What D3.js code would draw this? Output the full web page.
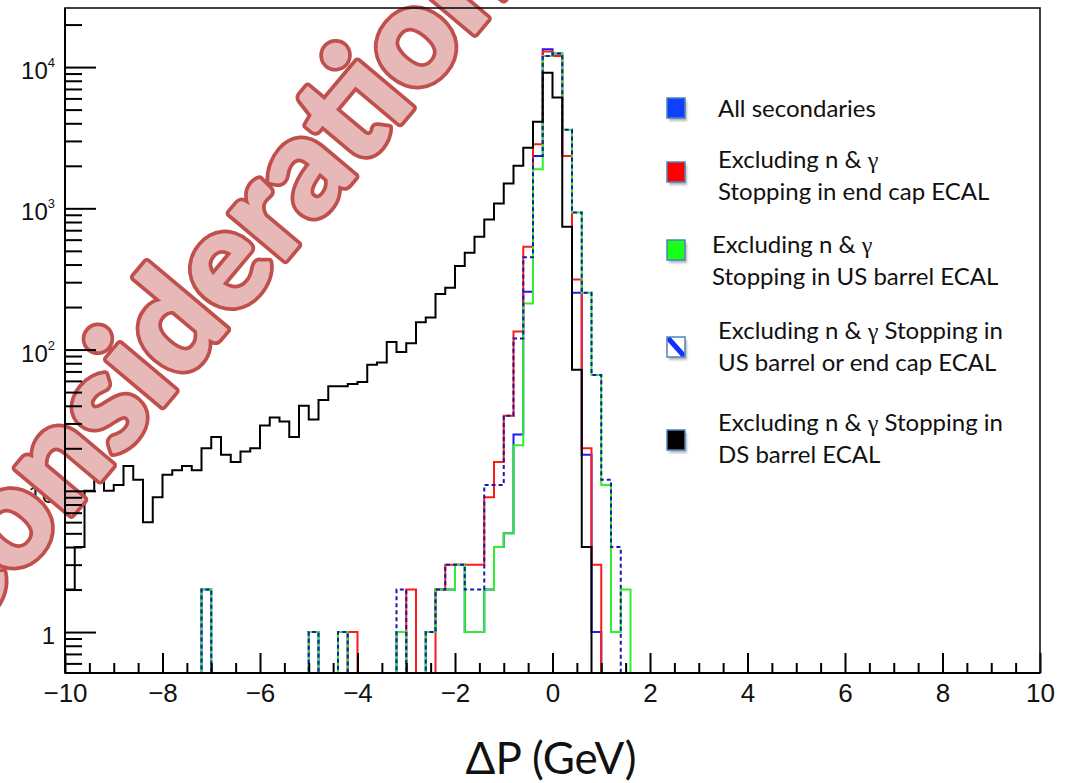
<!DOCTYPE html>
<html>
<head>
<meta charset="utf-8">
<script src="https://cdn.jsdelivr.net/npm/d3@7"></script>
<style>
  html, body { margin: 0; padding: 0; background: #ffffff; }
  svg { display: block; }
</style>
</head>
<body>
<svg id="chart" width="1066" height="783"></svg>
<script>
// ---- binning: 100 bins of 0.2 GeV between -10 and 10 ----
const xMin = -10, xMax = 10, nBins = 100;
const binEdges = d3.range(nBins + 1).map(i => xMin + (xMax - xMin) * i / nBins);

// ---- entries per bin (rows of 10 bins) ----
const allSecondaries = [
  0,0,0,0,0,0,0,0,0,0,
  0,0,0,0,2,0,0,0,0,0,
  0,0,0,0,0,1,0,0,1,0,
  0,0,0,0,1,0,0,1,2,2,
  3,1,1,2,4,5,25,257,2350,13400,
  12500,2350,253,18,1,0,0,0,0,0,
  0,0,0,0,0,0,0,0,0,0,
  0,0,0,0,0,0,0,0,0,0,
  0,0,0,0,0,0,0,0,0,0,
  0,0,0,0,0,0,0,0,0,0
];
const endCapECAL = [
  0,0,0,0,0,0,0,0,0,0,
  0,0,0,0,0,0,0,0,0,0,
  0,0,0,0,0,0,0,0,0,1,
  0,0,0,0,0,2,0,0,2,3,
  3,3,3,9,16,34,134,534,2840,12900,
  12000,2350,314,20,3,0,0,0,0,0,
  0,0,0,0,0,0,0,0,0,0,
  0,0,0,0,0,0,0,0,0,0,
  0,0,0,0,0,0,0,0,0,0,
  0,0,0,0,0,0,0,0,0,0
];
const usBarrelECAL = [
  0,0,0,0,0,0,0,0,0,0,
  0,0,0,0,2,0,0,0,0,0,
  0,0,0,0,0,1,0,0,1,0,
  0,0,0,0,1,0,0,1,2,2,
  3,1,1,2,4,5,21,212,1890,11970,
  12500,3600,936,253,66,11,1,2,0,0,
  0,0,0,0,0,0,0,0,0,0,
  0,0,0,0,0,0,0,0,0,0,
  0,0,0,0,0,0,0,0,0,0,
  0,0,0,0,0,0,0,0,0,0
];
const usBarrelOrEndCap = [
  0,0,0,0,0,0,0,0,0,0,
  0,0,0,0,2,0,0,0,0,0,
  0,0,0,0,0,1,0,0,1,0,
  0,0,0,0,2,0,0,1,2,3,
  3,2,2,11,11,34,120,450,2350,11970,
  12500,3600,936,253,66,12,4,0,0,0,
  0,0,0,0,0,0,0,0,0,0,
  0,0,0,0,0,0,0,0,0,0,
  0,0,0,0,0,0,0,0,0,0,
  0,0,0,0,0,0,0,0,0,0
];
const dsBarrelECAL = [
  2,4,10,13,10,11,15,12,6,9,
  13,14,15,14,20,24,18,16,19,20,
  29,33,31,24,40,32,44,55,55,57,
  59,78,81,113,96,111,156,169,247,274,
  390,484,629,835,1084,1500,2000,2690,4100,9120,
  6100,740,72,4,0,0,0,0,0,0,
  0,0,0,0,0,0,0,0,0,0,
  0,0,0,0,0,0,0,0,0,0,
  0,0,0,0,0,0,0,0,0,0,
  0,0,0,0,0,0,0,0,0,0
];

// ---- axis ticks and labels ----
const xMajorTicks = [-10, -8, -6, -4, -2, 0, 2, 4, 6, 8, 10];
const xMinorStep = 0.5;
const yMajorTicks = [1, 10, 100, 1000, 10000];
const yTickLabels = [["1", ""], ["10", ""], ["10", "2"], ["10", "3"], ["10", "4"]];
const yDomain = [0.513, 26200];
const xTitle = "\u0394P (GeV)";

// ---- legend ----
const legendLabels = [
  ["All secondaries"],
  ["Excluding n & \u03b3", "Stopping in end cap ECAL"],
  ["Excluding n & \u03b3", "Stopping in US barrel ECAL"],
  ["Excluding n & \u03b3 Stopping in", "US barrel or end cap ECAL"],
  ["Excluding n & \u03b3 Stopping in", "DS barrel ECAL"]
];
const watermarkText = "Consideration";

// ---- layout ----
const frame = { left: 65, right: 1040, top: 8, bottom: 673 };

const svg = d3.select("#chart");
const x = d3.scaleLinear().domain([xMin, xMax]).range([frame.left, frame.right]);
const y = d3.scaleLog().domain(yDomain).range([frame.bottom, frame.top]).clamp(true);

const defs = svg.append("defs");
defs.append("clipPath").attr("id", "plotClip")
  .append("rect")
  .attr("x", frame.left).attr("y", frame.top)
  .attr("width", frame.right - frame.left).attr("height", frame.bottom - frame.top);
const shadow = defs.append("filter").attr("id", "markerShadow")
  .attr("x", "-50%").attr("y", "-50%").attr("width", "200%").attr("height", "200%");
shadow.append("feGaussianBlur").attr("stdDeviation", 1.2);

// step outline of a histogram; empty bins sit on the lower frame edge
function stepPath(counts) {
  const base = y.range()[0];
  const pts = [[x(binEdges[0]), base]];
  counts.forEach((c, i) => pts.push([x(binEdges[i]), c > 0 ? y(c) : base]));
  pts.push([x(binEdges[nBins]), pts[pts.length - 1][1]]);
  pts.push([x(binEdges[nBins]), base]);
  return d3.line().curve(d3.curveStepAfter)(pts);
}

const series = [
  { counts: allSecondaries,   color: "#1a1aff", dash: null },
  { counts: endCapECAL,       color: "#ff1a1a", dash: null },
  { counts: usBarrelECAL,     color: "#2ef02e", dash: null },
  { counts: usBarrelOrEndCap, color: "#1a1aaa", dash: "4,3" },
  { counts: dsBarrelECAL,     color: "#000000", dash: null }
];

const plot = svg.append("g").attr("clip-path", "url(#plotClip)");
plot.selectAll("path.hist")
  .data(series)
  .join("path")
  .attr("class", "hist")
  .attr("d", d => stepPath(d.counts))
  .attr("fill", "none")
  .attr("stroke", d => d.color)
  .attr("stroke-width", 2)
  .attr("stroke-dasharray", d => d.dash);

// ---- tick labels (drawn beneath the watermark) ----
const labelFont = "'Liberation Sans', Arial, Helvetica, sans-serif";

const xLabels = svg.append("g")
  .attr("transform", `translate(0,${frame.bottom})`)
  .call(d3.axisBottom(x).tickValues(xMajorTicks).tickSize(0).tickPadding(10.5)
    .tickFormat(d => d < 0 ? "\u2212" + Math.abs(d) : String(d)));
xLabels.select(".domain").remove();
xLabels.selectAll("text")
  .attr("font-family", labelFont).attr("font-size", 26).attr("fill", "#111");

const yLabels = svg.append("g")
  .attr("transform", `translate(${frame.left},0)`)
  .call(d3.axisLeft(y).tickValues(yMajorTicks).tickSize(0).tickPadding(10).tickFormat(""));
yLabels.select(".domain").remove();
yLabels.selectAll("text")
  .attr("font-family", labelFont).attr("font-size", 24).attr("fill", "#111")
  .attr("dy", "0.48em")
  .each(function (d, i) {
    const t = d3.select(this);
    const [base, exp] = yTickLabels[i];
    t.append("tspan").text(base);
    if (exp) t.append("tspan").attr("font-size", 13).attr("dy", -12).text(exp);
  });

// ---- x axis title ----
svg.append("text")
  .attr("x", 551).attr("y", 774)
  .attr("text-anchor", "middle")
  .attr("font-family", "Lato, 'Open Sans', sans-serif")
  .attr("font-size", 44)
  .attr("fill", "#111")
  .text(xTitle);

// ---- legend ----
const legendMarkerY = [108, 172, 250, 347, 440];
const legendTextX = [718, 718, 712, 718, 718];
const legendTextY = [117, 168, 253, 339, 431];
const legendLineGap = 31.5;
const markerX = 667, markerW = 18, markerH = 20;
const markerFills = ["#1040ff", "#ff0000", "#1aff1a", "hatch", "#000000"];

const legend = svg.append("g");
legendLabels.forEach((lines, i) => {
  const cy = legendMarkerY[i];
  const g = legend.append("g");
  g.append("rect")
    .attr("x", markerX + 2).attr("y", cy - markerH / 2 + 3)
    .attr("width", markerW).attr("height", markerH)
    .attr("fill", "#888").attr("opacity", 0.6)
    .attr("filter", "url(#markerShadow)");
  g.append("rect")
    .attr("x", markerX).attr("y", cy - markerH / 2)
    .attr("width", markerW).attr("height", markerH)
    .attr("fill", markerFills[i] === "hatch" ? "#ffffff" : markerFills[i]);
  if (markerFills[i] === "hatch") {
    const cid = "hatchClip" + i;
    defs.append("clipPath").attr("id", cid).append("rect")
      .attr("x", markerX).attr("y", cy - markerH / 2)
      .attr("width", markerW).attr("height", markerH);
    g.append("line")
      .attr("clip-path", `url(#${cid})`)
      .attr("x1", markerX + 1).attr("y1", cy - markerH / 2 + 1)
      .attr("x2", markerX + markerW - 1).attr("y2", cy + markerH / 2 - 1)
      .attr("stroke", "#1030ff").attr("stroke-width", 5);
  }
  g.append("rect")
    .attr("x", markerX).attr("y", cy - markerH / 2)
    .attr("width", markerW).attr("height", markerH)
    .attr("fill", "none").attr("stroke", "#4f81bd").attr("stroke-width", 1.5);

  lines.forEach((line, j) => {
    const t = g.append("text")
      .attr("x", legendTextX[i]).attr("y", legendTextY[i] + j * legendLineGap)
      .attr("font-family", "Lato, 'Open Sans', sans-serif")
      .attr("font-size", 24)
      .attr("fill", "#111");
    const parts = line.split("\u03b3");
    parts.forEach((p, k) => {
      t.append("tspan").text(p);
      if (k < parts.length - 1) {
        t.append("tspan")
          .attr("font-family", "'Liberation Serif', 'DejaVu Serif', serif")
          .text("\u03b3");
      }
    });
  });
});

// ---- watermark: wide outline layer, then the pink body on top ----
const watermark = svg.append("g").attr("transform", "translate(-44,652) rotate(-50)");
[
  { fill: "#c0504d", stroke: "#c0504d", width: 9 },
  { fill: "#e6b9b8", stroke: "#e6b9b8", width: 1.5 }
].forEach(layer => {
  watermark.append("text")
    .attr("font-family", "Lato, 'Open Sans', sans-serif")
    .attr("font-weight", 900)
    .attr("font-size", 140)
    .attr("fill", layer.fill)
    .attr("stroke", layer.stroke)
    .attr("stroke-width", layer.width)
    .attr("stroke-linejoin", "round")
    .text(watermarkText);
});

// ---- frame, axis lines and tick marks (on top) ----
const xMinor = d3.range(xMin, xMax + 1e-9, xMinorStep)
  .filter(v => !xMajorTicks.some(m => Math.abs(m - v) < 1e-9));
const yMinor = [];
[0.1, 1, 10, 100, 1000, 10000].forEach(dec => {
  for (let m = 2; m <= 9; m++) {
    const v = m * dec;
    if (v >= yDomain[0] && v <= yDomain[1]) yMinor.push(v);
  }
});

function tickLines(axis) {
  return g => {
    g.call(axis);
    g.select(".domain").remove();
    g.selectAll("text").remove();
    g.selectAll("line").attr("stroke", "#000").attr("stroke-width", 2);
  };
}
svg.append("g").attr("transform", `translate(0,${frame.bottom})`)
  .call(tickLines(d3.axisBottom(x).tickValues(xMajorTicks).tickSizeInner(-20).tickSizeOuter(0)));
svg.append("g").attr("transform", `translate(0,${frame.bottom})`)
  .call(tickLines(d3.axisBottom(x).tickValues(xMinor).tickSizeInner(-10).tickSizeOuter(0)));
svg.append("g").attr("transform", `translate(${frame.left},0)`)
  .call(tickLines(d3.axisLeft(y).tickValues(yMajorTicks).tickSizeInner(-31).tickSizeOuter(0)));
svg.append("g").attr("transform", `translate(${frame.left},0)`)
  .call(tickLines(d3.axisLeft(y).tickValues(yMinor).tickSizeInner(-17).tickSizeOuter(0)));

svg.append("rect")
  .attr("x", frame.left).attr("y", frame.top)
  .attr("width", frame.right - frame.left).attr("height", frame.bottom - frame.top)
  .attr("fill", "none").attr("stroke", "#111").attr("stroke-width", 1.6);
svg.append("line")
  .attr("x1", frame.left).attr("x2", frame.right)
  .attr("y1", frame.bottom).attr("y2", frame.bottom)
  .attr("stroke", "#000").attr("stroke-width", 2);
svg.append("line")
  .attr("x1", frame.left).attr("x2", frame.left)
  .attr("y1", frame.top).attr("y2", frame.bottom)
  .attr("stroke", "#000").attr("stroke-width", 2);
</script>
</body>
</html>
